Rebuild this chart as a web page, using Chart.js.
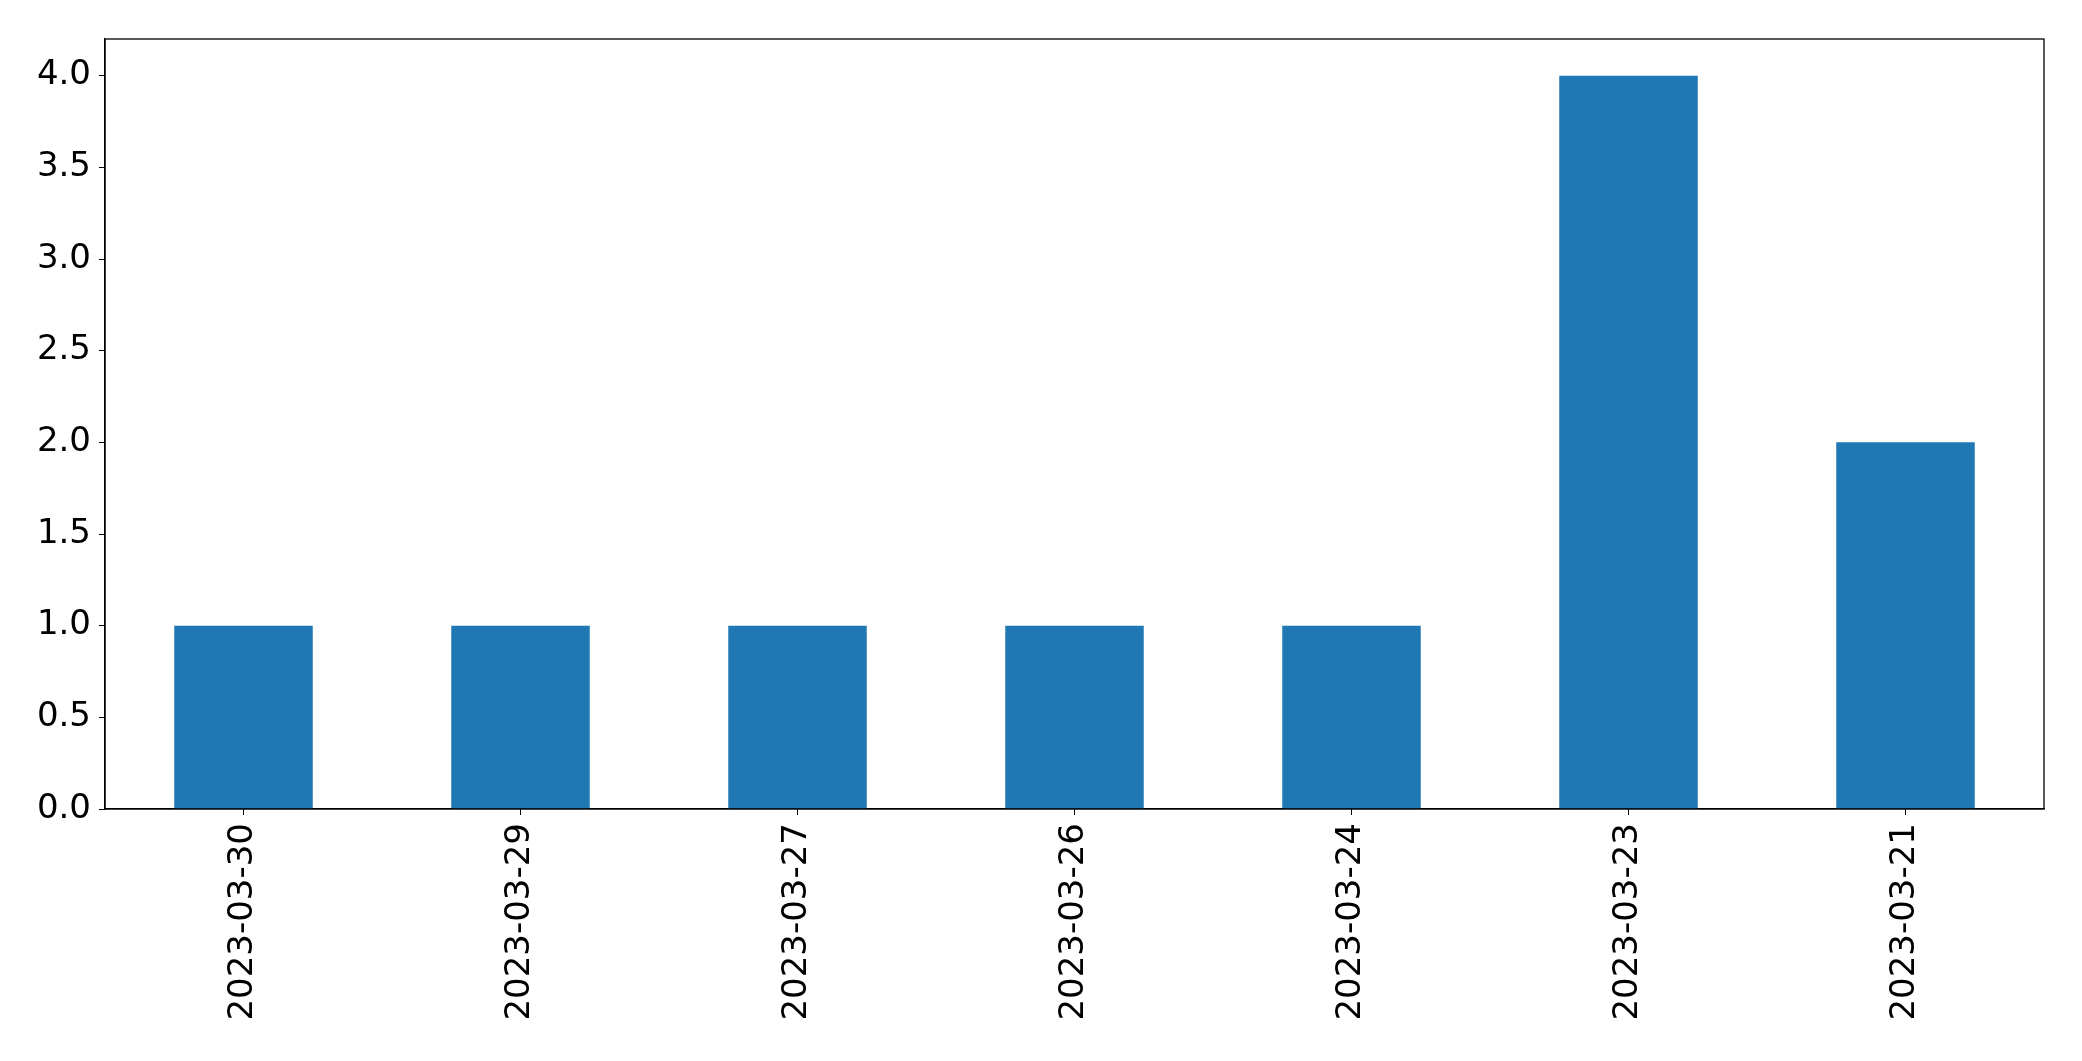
<!DOCTYPE html>
<html>
<head>
<meta charset="utf-8">
<script src="https://cdn.jsdelivr.net/npm/chart.js@4/dist/chart.umd.min.js"></script>
<style>
  html, body { margin: 0; padding: 0; background: #ffffff; }
  canvas { display: block; }
</style>
</head>
<body>
<canvas id="c" width="2082" height="1061"></canvas>
<script>
const categories = ["2023-03-30", "2023-03-29", "2023-03-27", "2023-03-26", "2023-03-24", "2023-03-23", "2023-03-21"];
const counts = [1, 1, 1, 1, 1, 4, 2];
const yTickValues = [0, 0.5, 1.0, 1.5, 2.0, 2.5, 3.0, 3.5, 4.0];
const yMax = 4.2;

const frame = {
  id: 'frame',
  afterDraw(chart) {
    const a = chart.chartArea, ctx = chart.ctx;
    ctx.save();
    ctx.strokeStyle = '#000000';
    ctx.lineWidth = 1.3;
    ctx.strokeRect(a.left, a.top, a.right - a.left, a.bottom - a.top);
    ctx.restore();
  }
};

const font = { family: '"DejaVu Sans", sans-serif', size: 34 };

new Chart(document.getElementById('c'), {
  type: 'bar',
  data: {
    labels: categories,
    datasets: [{
      data: counts,
      backgroundColor: '#1f77b4',
      borderWidth: 0,
      categoryPercentage: 1.0,
      barPercentage: 0.5
    }]
  },
  options: {
    responsive: false,
    animation: false,
    events: [],
    layout: { padding: { top: 39, right: 38, bottom: 0, left: 0 } },
    plugins: { legend: { display: false }, tooltip: { enabled: false } },
    scales: {
      x: {
        offset: true,
        grid: { drawOnChartArea: false, drawTicks: true, tickLength: 6, color: '#000000', offset: false },
        border: { display: true, color: '#000000', width: 1.3 },
        ticks: {
          color: '#000000', font: font, minRotation: 90, maxRotation: 90, padding: 8, autoSkip: false
        },
        afterFit(axis) { axis.height = 252; }
      },
      y: {
        min: 0, max: yMax,
        grid: { drawOnChartArea: false, drawTicks: true, tickLength: 6, color: '#000000' },
        border: { display: true, color: '#000000', width: 1.3 },
        ticks: {
          color: '#000000', font: font, padding: 8,
          callback: (v) => Number(v).toFixed(1)
        },
        afterBuildTicks(axis) { axis.ticks = yTickValues.map(v => ({ value: v })); },
        afterFit(axis) { axis.width = 105; }
      }
    }
  },
  plugins: [frame]
});
</script>
</body>
</html>
